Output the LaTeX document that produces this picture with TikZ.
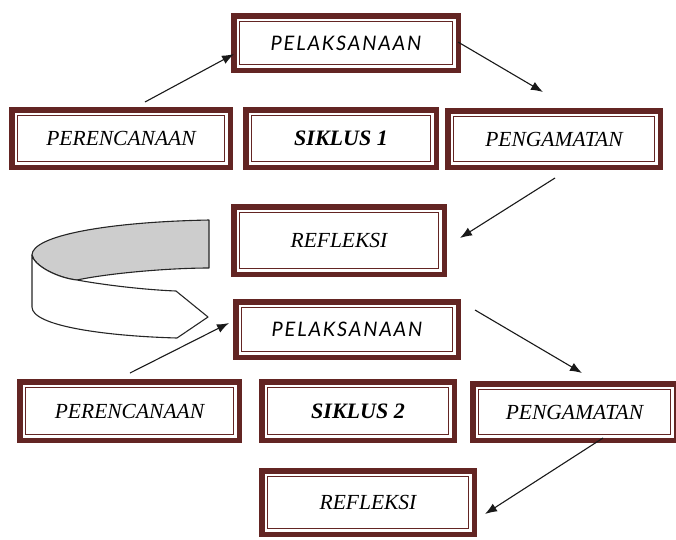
\documentclass[tikz,border=0pt]{standalone}
\usepackage{fontspec}
\setmainfont{Liberation Serif}
\newfontfamily\pelfont[LetterSpace=9]{Lato}
\usetikzlibrary{arrows.meta,calc}
\definecolor{bx}{RGB}{99,37,35}
\definecolor{rib}{RGB}{205,205,205}
\tikzset{
  boxst/.style={draw=bx, line width=5.5pt, fill=white, inner sep=0pt, outer sep=0pt, text=black},
  innerline/.style={draw=bx, line width=1.2pt},
  conn/.style={draw=black!90, line width=1.1pt, -{Latex[length=12pt,width=9pt]}},
  serit/.style={font=\fontsize{21.5}{24}\selectfont\itshape},
  pelit/.style={font=\fontsize{20}{24}\pelfont\itshape},
  siklus/.style={font=\fontsize{22}{26}\selectfont\bfseries\itshape},
  ribbon/.style={draw=black!85, line width=1.1pt, line join=round},
}
\newcommand\bxnode[7]{%
  \node[boxst,#6, minimum width={#4-#2-5.5pt}, minimum height={#5-#3-5.5pt}] (#1) at ({(#2+#4)/2},{(#3+#5)/2}) {#7};
  \draw[innerline] ([xshift=5.7pt,yshift=-5.7pt]#1.north west) rectangle ([xshift=-5.7pt,yshift=5.7pt]#1.south east);
}
\begin{document}
\begin{tikzpicture}[x=1pt,y=-1pt]
\useasboundingbox (0,0) rectangle (676,539);
% boxes, cycle 1
\bxnode{pel1}{231}{13}{461}{73}{pelit}{PELAKSANAAN}
\bxnode{per1}{9}{107}{233}{170}{serit}{PERENCANAAN}
\bxnode{sik1}{243}{107}{439}{170}{siklus}{SIKLUS 1}
\bxnode{pen1}{445}{108}{663}{170}{serit}{PENGAMATAN}
\bxnode{ref1}{231}{204}{447}{277}{serit}{REFLEKSI}
% boxes, cycle 2
\bxnode{pel2}{233}{299}{461}{360}{pelit}{PELAKSANAAN}
\bxnode{per2}{17}{379}{242}{443}{serit}{PERENCANAAN}
\bxnode{sik2}{259}{379}{457}{443}{siklus}{SIKLUS 2}
\bxnode{pen2}{470}{381}{679}{443}{serit}{PENGAMATAN}
\bxnode{ref2}{259}{468}{477}{537}{serit}{REFLEKSI}
% connector end points
\coordinate (a1s) at (145,102);
\coordinate (a1e) at (234,54);
\coordinate (a2s) at (458,42);
\coordinate (a2e) at (543,92);
\coordinate (a3s) at (555,178);
\coordinate (a3e) at (460,238);
\coordinate (a4s) at (130,373);
\coordinate (a4e) at (229,323);
\coordinate (a5s) at (475,310);
\coordinate (a5e) at (582,373);
\coordinate (a6s) at (603,438);
\coordinate (a6e) at (485,514);
\draw[conn] (a1s) -- (a1e);
\draw[conn] (a2s) -- (a2e);
\draw[conn] (a3s) -- (a3e);
\draw[conn] (a4s) -- (a4e);
\draw[conn] (a5s) -- (a5e);
\draw[conn] (a6s) -- (a6e);
% curved ribbon arrow
\filldraw[ribbon, fill=rib]
  (209,220) .. controls (105,222) and (32,236) .. (32,255)
  .. controls (34,266) and (58,278) .. (77,280)
  .. controls (110,273) and (170,268) .. (209,268) -- cycle;
\draw[ribbon, fill=white]
  (32,255) .. controls (34,266) and (58,278) .. (77,280)
  .. controls (110,286) and (150,290) .. (176,291)
  -- (208,317) -- (177,338)
  .. controls (105,336) and (32,326) .. (32,307) -- cycle;
\end{tikzpicture}
\end{document}
